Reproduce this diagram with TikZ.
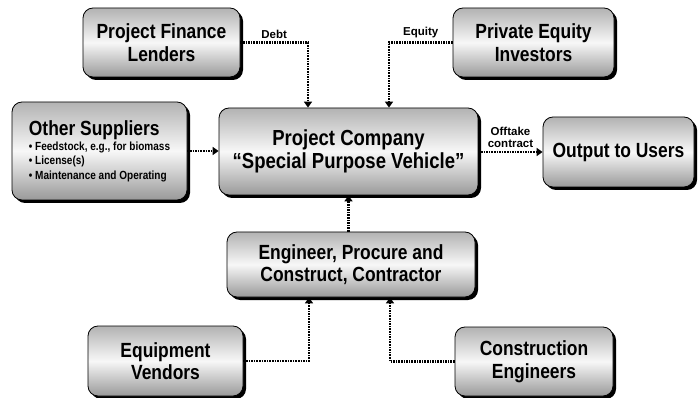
\documentclass[tikz,border=0pt]{standalone}
\usepackage{fontspec}
\setmainfont{Liberation Sans}[FakeStretch=0.85]
\newfontfamily\tagfont{Liberation Sans}
\usetikzlibrary{arrows.meta,shadows}

\tikzset{
  party/.style={draw=black, line width=0.8pt, rounded corners=10pt,
    top color=black!30, bottom color=black!40, middle color=black!3,
    drop shadow={shadow xshift=3pt, shadow yshift=-3pt, fill=black, opacity=1},
    align=center, inner sep=2pt, font=\fontsize{20.5}{22.5}\selectfont\bfseries},
  flow/.style={line width=2.4pt, dash pattern=on 1.6pt off 1pt, -{Triangle[length=6pt,width=8pt]}},
  tag/.style={font=\tagfont\fontsize{11.5}{12.5}\selectfont\bfseries, align=center, inner sep=3pt},
}

\begin{document}
\begin{tikzpicture}[x=1pt, y=-1pt]
    \useasboundingbox (0,0) rectangle (699,398); % page size of the reference

    \node [party, minimum width=157pt, minimum height=69pt] (lenders) at (161.5,42.5) {Project Finance\\Lenders}; % top left
    \node [party, minimum width=161pt, minimum height=69pt] (investors) at (533.5,42.5) {Private Equity\\Investors}; % top right
    \node [party, minimum width=175pt, minimum height=98pt, align=left, font=\fontsize{11.8}{14.3}\selectfont\bfseries] (suppliers) at (99.5,151)
        {{\fontsize{20.5}{20}\selectfont Other Suppliers}\\[1pt] • Feedstock, e.g., for biomass\\ • License(s)\\ • Maintenance and Operating}; % left
    \node [party, minimum width=259pt, minimum height=87pt, font=\fontsize{21.8}{23.5}\selectfont\bfseries] (company) at (348.5,151.5) {Project Company\\“Special Purpose Vehicle”}; % centre
    \node [party, minimum width=151pt, minimum height=70pt] (users) at (618.5,152) {Output to Users}; % right
    \node [party, minimum width=248pt, minimum height=65pt] (epc) at (351,264.5) {Engineer, Procure and\\Construct, Contractor}; % below centre
    \node [party, minimum width=155pt, minimum height=70pt] (vendors) at (165.5,361) {Equipment\\Vendors}; % bottom left
    \node [party, minimum width=158pt, minimum height=69pt] (engineers) at (534,361.5) {Construction\\Engineers}; % bottom right

    \draw [flow] (lenders.east) -| node [tag, pos=0.25, above] {Debt} ([xshift=-40.5pt]company.north); % debt into the company
    \draw [flow] (investors.west) -| node [tag, pos=0.25, above] {Equity} ([xshift=40.5pt]company.north); % equity into the company
    \draw [flow] (suppliers.east) -- (suppliers.east -| company.west); % supplies
    \draw [flow] (company.east |- users.west) -- node [tag, above] {Offtake\\contract} (users.west); % offtake
    \draw [flow] (epc.north -| company.south) -- (company.south); % contractor
    \draw [flow] (vendors.east) -| ([xshift=-42pt]epc.south); % equipment
    \draw [flow] (engineers.west) -| ([xshift=39pt]epc.south); % engineers
\end{tikzpicture}
\end{document}
